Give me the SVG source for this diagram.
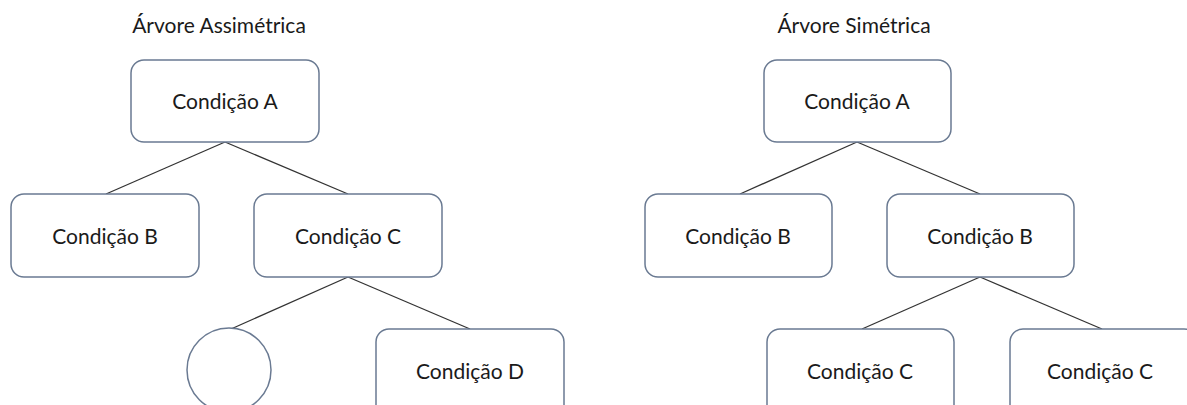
<svg xmlns="http://www.w3.org/2000/svg" width="1187" height="405" viewBox="0 0 1187 405">
<style>
.n{fill:#fff;stroke:#6a7a92;stroke-width:1.5}
.t{font-family:Lato,"Liberation Sans",sans-serif;font-size:21px;fill:#1a1a1a;text-anchor:middle}
.c{stroke:#333;stroke-width:1.3;fill:none}
</style>
<rect width="1187" height="405" fill="#fff"/>
<g id="connectors">
<line class="c" x1="225" y1="142" x2="106" y2="194"/>
<line class="c" x1="225" y1="142" x2="348" y2="194"/>
<line class="c" x1="348" y1="277" x2="231" y2="329"/>
<line class="c" x1="348" y1="277" x2="470" y2="329"/>
<line class="c" x1="857" y1="142" x2="740" y2="194"/>
<line class="c" x1="857" y1="142" x2="980" y2="194"/>
<line class="c" x1="980" y1="277" x2="862" y2="329"/>
<line class="c" x1="980" y1="277" x2="1102" y2="329"/>
</g>
<g id="title-left"><text class="t" x="219" y="33">Árvore Assimétrica</text></g>
<g id="title-right"><text class="t" x="854" y="33">Árvore Simétrica</text></g>
<g id="L-A"><rect class="n" x="131" y="60" width="188" height="82" rx="13"/><text class="t" x="225" y="109">Condição A</text></g>
<g id="L-B"><rect class="n" x="11" y="194" width="188" height="83" rx="13"/><text class="t" x="105" y="244">Condição B</text></g>
<g id="L-C"><rect class="n" x="254" y="194" width="188" height="83" rx="13"/><text class="t" x="348" y="244">Condição C</text></g>
<g id="L-empty"><circle class="n" cx="229" cy="370" r="42"/></g>
<g id="L-D"><rect class="n" x="376" y="329" width="188" height="90" rx="13"/><text class="t" x="470" y="379">Condição D</text></g>
<g id="R-A"><rect class="n" x="764" y="60" width="187" height="82" rx="13"/><text class="t" x="857" y="109">Condição A</text></g>
<g id="R-B1"><rect class="n" x="645" y="194" width="187" height="83" rx="13"/><text class="t" x="738" y="244">Condição B</text></g>
<g id="R-B2"><rect class="n" x="887" y="194" width="187" height="83" rx="13"/><text class="t" x="980" y="244">Condição B</text></g>
<g id="R-C1"><rect class="n" x="767" y="329" width="187" height="90" rx="13"/><text class="t" x="860" y="379">Condição C</text></g>
<g id="R-C2"><rect class="n" x="1010" y="329" width="187" height="90" rx="13"/><text class="t" x="1100" y="379">Condição C</text></g>
</svg>
